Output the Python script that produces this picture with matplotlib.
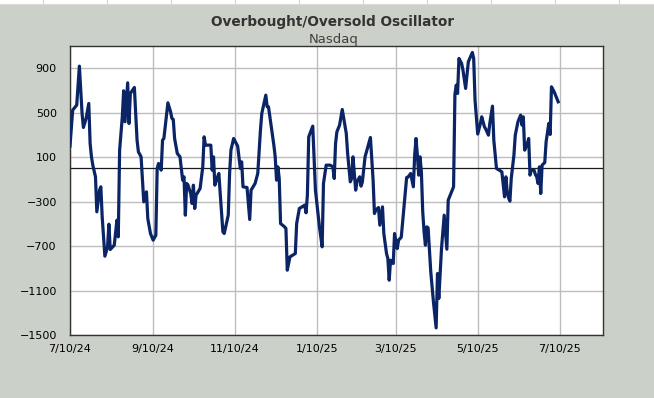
import matplotlib
matplotlib.use("Agg")
import matplotlib.pyplot as plt
import matplotlib.dates as mdates
import pandas as pd
from matplotlib.patches import Rectangle
from matplotlib.lines import Line2D

start_date = "2024-07-10"
# days since start_date
day_offsets = [0, 2, 5, 7, 9, 10, 12, 14, 15, 16, 17, 19, 20, 22, 23, 24, 26, 28, 29, 30,
               33, 35, 36, 37, 39, 40, 41, 43, 44, 45, 48, 50, 51, 53, 55, 57, 58, 60, 62, 64,
               65, 66, 68, 69, 70, 73, 75, 76, 77, 78, 80, 82, 84, 85, 86, 87, 88, 90, 91, 92,
               93, 94, 97, 99, 100, 101, 105, 106, 107, 108, 110, 111, 112, 114, 115, 118, 119, 120, 122, 125,
               127, 128, 129, 132, 134, 135, 138, 140, 142, 143, 146, 147, 148, 152, 153, 154, 155, 156, 157, 160,
               161, 162, 164, 166, 168, 169, 171, 173, 175, 176, 177, 178, 181, 183, 186, 188, 189, 191, 194, 196,
               197, 198, 199, 201, 203, 206, 207, 209, 210, 211, 213, 214, 216, 217, 218, 220, 224, 226, 227, 228,
               230, 231, 233, 234, 236, 237, 238, 239, 241, 242, 244, 245, 247, 251, 252, 254, 256, 257, 258, 259,
               260, 261, 262, 263, 264, 265, 266, 267, 269, 271, 273, 274, 275, 277, 279, 281, 282, 284, 286, 287,
               288, 289, 290, 292, 293, 295, 297, 300, 301, 302, 304, 306, 307, 309, 310, 312, 313, 315, 316, 318,
               320, 322, 324, 325, 326, 327, 328, 329, 331, 332, 334, 336, 337, 338, 339, 341, 342, 343, 344, 346,
               347, 348, 349, 350, 351, 352, 354, 355, 357, 358, 359, 361, 364]
oscillator = [200, 523, 568, 919, 493, 367, 448, 583, 223, 103, 28, -77, -392, -197, -167, -437, -791, -707, -503, -731,
              -692, -467, -617, 163, 463, 697, 418, 769, 403, 673, 727, 253, 148, 103, -302, -212, -452, -587, -647, -602,
              -2, 43, -17, 253, 268, 589, 508, 448, 439, 268, 133, 103, -107, -77, -422, -137, -152, -227, -317, -152,
              -362, -242, -182, 13, 283, 208, 208, -17, 103, -152, -77, -47, -227, -572, -587, -422, -47, 163, 268, 200,
              -2, 58, -167, -173, -461, -197, -137, -47, 343, 493, 658, 553, 553, 208, 103, -107, 13, -92, -497, -527,
              -542, -917, -797, -782, -767, -497, -362, -347, -332, -401, -242, 283, 379, -197, -527, -707, -137, 28, 28, 13,
              -92, 223, 328, 388, 529, 313, 133, -122, -92, 103, -197, -122, -77, -161, -122, 103, 277, -107, -407, -377,
              -353, -512, -347, -587, -767, -812, -1007, -827, -857, -587, -722, -647, -620, -83, -80, -47, -167, 118, 268, 118,
              -62, 103, -32, -392, -572, -692, -527, -536, -932, -1202, -1436, -947, -1172, -722, -422, -728, -287, -227, -167, 664,
              748, 673, 988, 943, 883, 718, 958, 1042, 988, 613, 308, 403, 463, 373, 352, 298, 403, 559, 253, -2,
              -17, -32, -257, -77, -212, -266, -296, -92, 118, 298, 418, 478, 388, 463, 163, 223, 268, -62, -17, -17,
              -56, -77, -137, 13, -227, 28, 52, 238, 403, 304, 733, 688, 598]

title = "Overbought/Oversold Oscillator"
subtitle = "Nasdaq"
y_ticks = [-1500, -1100, -700, -300, 100, 500, 900]
x_tick_dates = ["2024-07-10", "2024-09-10", "2024-11-10", "2025-01-10", "2025-03-10", "2025-05-10", "2025-07-10"]
x_tick_labels = ["7/10/24", "9/10/24", "11/10/24", "1/10/25", "3/10/25", "5/10/25", "7/10/25"]

dates = pd.Timestamp(start_date) + pd.to_timedelta(day_offsets, unit="D")

bg = "#cbd0c9"
fig = plt.figure(figsize=(6.54, 3.98), dpi=100, facecolor=bg)

# spreadsheet strip at top
fig.patches.append(Rectangle((0, 1 - 3.5/398), 1, 3.5/398, transform=fig.transFigure,
                             facecolor="white", edgecolor="none", zorder=0))
for px in [43, 107, 171, 235, 299, 363, 427, 491, 555, 619]:
    fig.lines.append(Line2D([px/654, px/654], [1 - 3.5/398, 1], transform=fig.transFigure,
                            color="#d4d4d4", lw=0.8))
fig.lines.append(Line2D([0, 1], [1 - 3.5/398, 1 - 3.5/398], transform=fig.transFigure,
                        color="#dcdcdc", lw=0.8))

ax = fig.add_axes([70/654, (398-335)/398, 533/654, 289/398])
ax.set_facecolor("white")

ax.plot(dates, oscillator, color="#0b2466", lw=2.3, solid_joinstyle="round", zorder=3)
ax.axhline(0, color="#1a1a1a", lw=0.9, zorder=2)

ax.set_ylim(-1500, 1100)
ax.set_yticks(y_ticks)
ax.set_xlim(pd.Timestamp("2024-07-10"), pd.Timestamp("2025-08-11 10:00"))
ax.set_xticks(pd.to_datetime(x_tick_dates))
ax.set_xticklabels(x_tick_labels)

ax.grid(True, color="#bdbdbd", lw=1.0)
ax.set_axisbelow(True)
for s in ax.spines.values():
    s.set_color("#333333")
    s.set_linewidth(1.0)

ax.tick_params(axis="y", length=0, pad=9.5, labelsize=8, labelcolor="black")
ax.tick_params(axis="x", length=0, pad=6.5, labelsize=8, labelcolor="black")

fig.text(333/654, 1 - 22/398, title, ha="center", va="center", fontsize=9.8,
         fontweight="bold", color="#333333")
fig.text(334/654, 1 - 39.5/398, subtitle, ha="center", va="center", fontsize=9.5,
         color="#404040")

fig.savefig("out.png", dpi=100, facecolor=bg)
